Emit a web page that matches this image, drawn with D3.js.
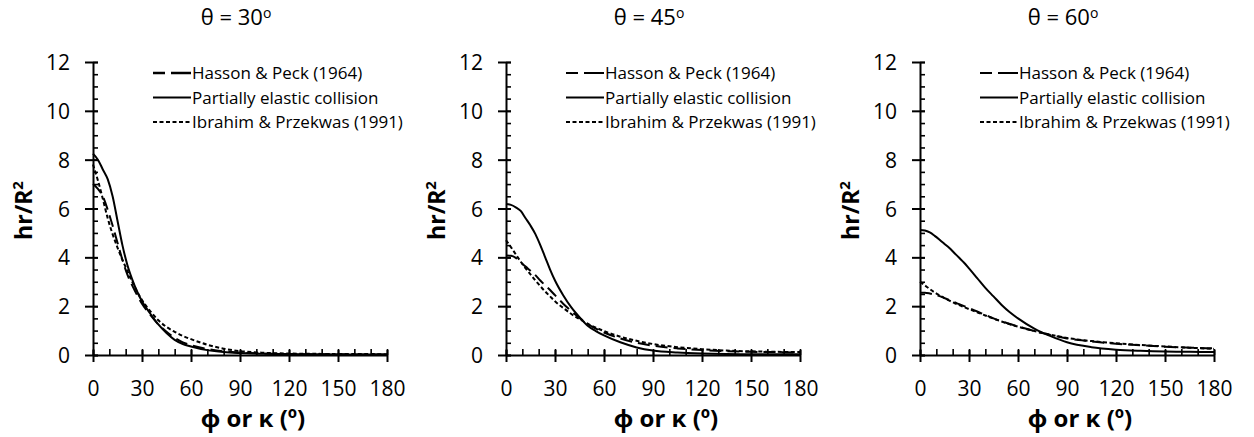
<!DOCTYPE html>
<html>
  <head>
    <meta http-equiv="Content-Type" content="text/html;charset=utf-8"/>
    <title>hr/R2 vs phi</title>
    <script src="https://d3js.org/d3.v7.min.js"></script>
    <style>
      body { margin: 0; background: #fff; }
      svg text { font-family: "Open Sans", "Noto Sans", sans-serif; fill: #000; }
    </style>
  </head>
  <body>
    <script type="text/javascript">

        // angle grid (deg) shared by all curves
        const phi = [0, 3, 6, 9, 12, 15, 18, 21, 24, 27, 30, 35, 40, 45, 50, 55, 60, 70, 80, 90, 105, 120, 135, 150, 165, 180]

        const thetas = ['30', '45', '60']
        const xTicks = [0, 30, 60, 90, 120, 150, 180]
        const yTicks = [0, 2, 4, 6, 8, 10, 12]
        const seriesNames = ['Hasson & Peck (1964)', 'Partially elastic collision', 'Ibrahim & Przekwas (1991)']

        // theta = 30
        const hasson30  = [7.0, 6.8, 6.5, 5.95, 5.3, 4.6, 3.9, 3.3, 2.85, 2.45, 2.1, 1.65, 1.25, 0.95, 0.7, 0.52, 0.4, 0.25, 0.15, 0.1, 0.06, 0.04, 0.03, 0.03, 0.02, 0.02]
        const elastic30 = [8.25, 8.0, 7.6, 7.2, 6.5, 5.5, 4.5, 3.7, 3.1, 2.6, 2.2, 1.7, 1.25, 0.9, 0.62, 0.45, 0.35, 0.2, 0.12, 0.08, 0.05, 0.04, 0.03, 0.02, 0.02, 0.02]
        const ibrahim30 = [7.8, 7.15, 6.4, 5.6, 4.95, 4.4, 3.9, 3.45, 3.0, 2.6, 2.25, 1.8, 1.42, 1.15, 0.95, 0.78, 0.65, 0.42, 0.26, 0.16, 0.09, 0.06, 0.05, 0.04, 0.04, 0.03]

        // theta = 45
        const hasson45  = [4.07, 4.06, 3.98, 3.8, 3.62, 3.45, 3.27, 3.05, 2.85, 2.66, 2.45, 2.1, 1.8, 1.52, 1.27, 1.08, 0.92, 0.68, 0.5, 0.38, 0.27, 0.2, 0.16, 0.13, 0.12, 0.1]
        const elastic45 = [6.18, 6.15, 6.05, 5.9, 5.6, 5.3, 4.95, 4.5, 4.0, 3.5, 3.05, 2.45, 1.95, 1.55, 1.2, 0.98, 0.8, 0.52, 0.31, 0.18, 0.1, 0.06, 0.04, 0.03, 0.03, 0.03]
        const ibrahim45 = [4.7, 4.42, 4.12, 3.82, 3.55, 3.3, 3.05, 2.82, 2.6, 2.4, 2.2, 1.93, 1.68, 1.47, 1.28, 1.12, 0.98, 0.75, 0.58, 0.45, 0.32, 0.24, 0.18, 0.15, 0.13, 0.12]

        // theta = 60
        const hasson60  = [2.55, 2.55, 2.52, 2.47, 2.41, 2.33, 2.25, 2.16, 2.08, 2.0, 1.92, 1.78, 1.64, 1.5, 1.38, 1.27, 1.17, 0.98, 0.82, 0.68, 0.56, 0.46, 0.4, 0.34, 0.3, 0.27]
        const elastic60 = [5.12, 5.1, 5.02, 4.88, 4.72, 4.55, 4.38, 4.18, 3.98, 3.78, 3.55, 3.15, 2.75, 2.4, 2.05, 1.75, 1.5, 1.08, 0.77, 0.52, 0.32, 0.22, 0.17, 0.14, 0.13, 0.12]
        const ibrahim60 = [3.0, 2.85, 2.7, 2.56, 2.44, 2.33, 2.23, 2.13, 2.04, 1.96, 1.88, 1.75, 1.62, 1.49, 1.37, 1.26, 1.16, 0.98, 0.83, 0.7, 0.57, 0.48, 0.41, 0.35, 0.3, 0.25]

        const panelData = [
            [hasson30, elastic30, ibrahim30],
            [hasson45, elastic45, ibrahim45],
            [hasson60, elastic60, ibrahim60]
        ]

        const width = 1254,
            height = 437

        const panelLeft = [93, 506, 920]
        const plotW = 294
        const plotTop = 62, plotBottom = 355

        const dashes = ['12,6', null, '4,2.5']
        const legendDashes = ['12,6,20', null, '4,2.5']

        const svg = d3.select('body').append('svg')
            .attr('width', width)
            .attr('height', height)

        thetas.forEach((theta, p) => {
            const x0 = panelLeft[p]
            const x = d3.scaleLinear().domain([0, 180]).range([x0, x0 + plotW])
            const y = d3.scaleLinear().domain([0, 12]).range([plotBottom, plotTop])
            const g = svg.append('g')

            // title
            const title = g.append('text')
                .attr('x', x0 + 143)
                .attr('y', 25)
                .attr('text-anchor', 'middle')
                .style('font-size', '22px')
            title.append('tspan').text('θ = ' + theta)
            title.append('tspan').attr('dy', -7).style('font-size', '14px').text('o')

            // minor ticks (inside)
            g.append('g')
                .attr('transform', `translate(${x0},0)`)
                .call(d3.axisRight(y).tickValues(d3.range(0, 12.01, 0.5)).tickSize(5).tickFormat(''))
                .call(a => a.select('.domain').remove())
                .selectAll('line').attr('stroke', '#000').attr('stroke-width', 1.6)
            g.append('g')
                .attr('transform', `translate(0,${plotBottom})`)
                .call(d3.axisTop(x).tickValues(d3.range(0, 181, 10)).tickSize(6).tickFormat(''))
                .call(a => a.select('.domain').remove())
                .selectAll('line').attr('stroke', '#000').attr('stroke-width', 1.6)

            // major axes
            const yAxis = g.append('g')
                .attr('transform', `translate(${x0},0)`)
                .call(d3.axisLeft(y).tickValues(yTicks).tickSize(8).tickSizeOuter(0).tickPadding(15))
            yAxis.selectAll('.tick line').attr('x2', -8).attr('x1', 5)
            const xAxis = g.append('g')
                .attr('transform', `translate(0,${plotBottom})`)
                .call(d3.axisBottom(x).tickValues(xTicks).tickSize(7).tickSizeOuter(0).tickPadding(19))
            xAxis.selectAll('.tick line').attr('y1', -5)
            ;[yAxis, xAxis].forEach(a => {
                a.select('.domain').attr('stroke', '#000').attr('stroke-width', 2)
                a.selectAll('.tick line').attr('stroke', '#000').attr('stroke-width', 2)
                a.selectAll('text').style('font-size', '21px').attr('font-family', null)
            })
            yAxis.selectAll('text').attr('dy', '0.36em')

            // axis titles
            const yl = g.append('text')
                .attr('transform', `translate(${x0 - 61},${(plotTop + plotBottom) / 2 + 2}) rotate(-90)`)
                .attr('text-anchor', 'middle')
                .style('font-size', '23px')
                .style('font-weight', 'bold')
            yl.append('tspan').text('hr/R')
            yl.append('tspan').attr('dy', -9).style('font-size', '15px').text('2')

            g.append('text')
                .attr('x', x0 + 160)
                .attr('y', 427)
                .attr('text-anchor', 'middle')
                .style('font-size', '24px')
                .style('font-weight', 'bold')
                .text('ϕ or κ (º)')

            // curves
            const line = d3.line()
                .x((d, i) => x(phi[i]))
                .y(d => y(d))
                .curve(d3.curveMonotoneX)

            panelData[p].forEach((vals, s) => {
                g.append('path')
                    .datum(vals)
                    .attr('d', line)
                    .attr('fill', 'none')
                    .attr('stroke', '#000')
                    .attr('stroke-width', 2)
                    .attr('stroke-dasharray', dashes[s])
            })

            // legend
            seriesNames.forEach((name, s) => {
                const ly = 73 + s * 24.5
                const lx = x0 + 60
                g.append('line')
                    .attr('x1', lx).attr('x2', lx + 38)
                    .attr('y1', ly).attr('y2', ly)
                    .attr('stroke', '#000')
                    .attr('stroke-width', s === 0 && p === 0 ? 2.6 : 1.8)
                    .attr('stroke-dasharray', legendDashes[s])
                g.append('text')
                    .attr('x', lx + 39)
                    .attr('y', ly + 6)
                    .style('font-size', '17px')
                    .text(name)
            })
        })

    </script>
  </body>
</html>
